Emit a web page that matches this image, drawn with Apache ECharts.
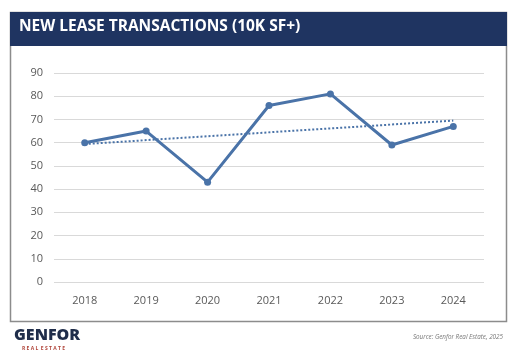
<!DOCTYPE html>
<html><head><meta charset="utf-8">
<script src="https://cdn.jsdelivr.net/npm/echarts@6/dist/echarts.min.js"></script>
<style>html,body{margin:0;padding:0;background:#fff}#c{width:515px;height:355px}</style>
</head><body><div id="c"></div>
<script>
const titleText = 'NEW LEASE TRANSACTIONS (10K SF+)';
const years = ['2018','2019','2020','2021','2022','2023','2024'];
const transactions = [60, 65, 43, 76, 81, 59, 67];
const trendEnds = [59.4, 69.5];
const yTicks = {min: 0, max: 90, interval: 10};
const sourceText = 'Source: Genfor Real Estate, 2025';

const trendData = years.map((y, i) => i === 0 ? trendEnds[0] : (i === years.length - 1 ? trendEnds[1] : null));

const chart = echarts.init(document.getElementById('c'), null, {renderer: 'canvas'});
chart.setOption({
  animation: false,
  backgroundColor: '#fff',
  grid: {left: 54, right: 31, top: 73, bottom: 73, containLabel: false},
  xAxis: {
    type: 'category', data: years, boundaryGap: true,
    axisLine: {show: false}, axisTick: {show: false},
    axisLabel: {color: '#595959', fontSize: 11, fontFamily: 'Open Sans', margin: 13}
  },
  yAxis: {
    type: 'value', min: yTicks.min, max: yTicks.max, interval: yTicks.interval,
    axisLine: {show: false}, axisTick: {show: false},
    axisLabel: {color: '#595959', fontSize: 11, fontFamily: 'Open Sans', margin: 11},
    splitLine: {lineStyle: {color: '#d9d9d9', width: 1}}
  },
  series: [
    {
      type: 'line', data: transactions, symbol: 'circle', symbolSize: 7,
      lineStyle: {color: '#4a73a8', width: 3},
      itemStyle: {color: '#4a73a8'}, z: 3
    },
    {
      type: 'line', data: trendData, connectNulls: true, symbol: 'none',
      lineStyle: {color: '#4a73a8', width: 2, type: [2, 2]}, z: 2
    }
  ],
  graphic: [
    {type: 'rect', shape: {x: 10.5, y: 12.5, width: 496, height: 309}, style: {fill: 'none', stroke: '#8c8c8c', lineWidth: 1.5}, z: -1},
    {type: 'rect', shape: {x: 10, y: 12, width: 497, height: 34}, style: {fill: '#1f3461'}, z: 10},
    {type: 'text', left: 19, top: 19, style: {text: titleText, fill: '#fff', font: 'bold 15.5px "Open Sans"'}, z: 11},
    {type: 'text', left: 14, top: 327, style: {text: 'GENFOR', fill: '#1f2d4a', font: '900 16px "Open Sans"'}, z: 11},
    {type: 'text', left: 22, top: 346, style: {text: 'R E A L  E S T A T E', fill: '#b0453a', font: 'bold 5px "Open Sans"'}, z: 11},
    {type: 'text', right: 12, top: 334, style: {text: sourceText, fill: '#777', font: 'italic 6.3px "Open Sans"'}, z: 11}
  ]
});
</script></body></html>
